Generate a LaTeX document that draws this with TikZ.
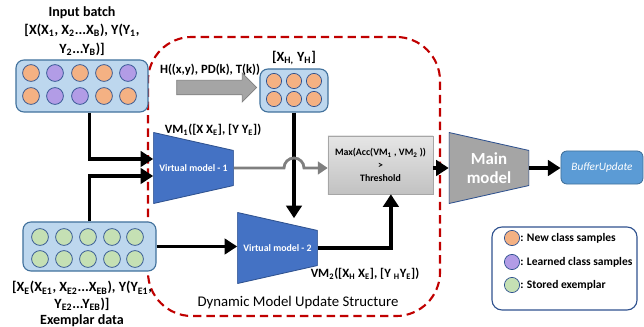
\documentclass[tikz,border=0pt]{standalone}
\usepackage{fontspec}
\setmainfont{Carlito}
\usetikzlibrary{arrows.meta,shapes.arrows,calc}

\definecolor{boxblue}{RGB}{189,215,238}
\definecolor{edgeblue}{RGB}{65,113,156}
\definecolor{dotedge}{RGB}{47,82,143}
\definecolor{neworange}{RGB}{244,177,131}
\definecolor{learnpurple}{RGB}{178,156,230}
\definecolor{storegreen}{RGB}{197,224,180}
\definecolor{vmblue}{RGB}{68,114,196}
\definecolor{maingray}{RGB}{165,165,165}
\definecolor{linegray}{RGB}{127,127,127}
\definecolor{dashred}{RGB}{192,0,0}
\definecolor{bufblue}{RGB}{91,155,213}

\begin{document}
\begin{tikzpicture}[x=0.025cm, y=-0.025cm, font=\bfseries\fontsize{10}{13}\selectfont,
    batch/.style={draw=edgeblue, fill=boxblue, line width=0.8pt, rounded corners=0.2cm},
    dot/.style={circle, draw=dotedge, line width=0.5pt, fill=#1, minimum size=0.42cm, inner sep=0pt},
    model/.style={minimum width=2cm, minimum height=1.775cm, inner sep=0pt, text=white, align=center,
        path picture={\filldraw[fill=#1, draw=dotedge, line width=0.6pt]
            (path picture bounding box.north west)
            -- ($(path picture bounding box.north east)+(0,18)$)
            -- ($(path picture bounding box.south east)+(0,-18)$)
            -- (path picture bounding box.south west) -- cycle;}},
    flow/.style={line width=2.6pt, -{Triangle[length=9pt,width=11pt]}},
    hop/.style={line width=2pt, linegray, -{Triangle[length=7pt,width=9pt]}}]

    \useasboundingbox (0,0) rectangle (644,327);

    % Dynamic model update frame
    \node[draw=dashred, line width=1.5pt, dash pattern=on 6pt off 3.5pt, rounded corners=1.1cm,
        minimum width=7.3cm, minimum height=6.975cm] (dmus) at (294,176.5) {};
    \node[font=\mdseries\fontsize{10.5}{12}\selectfont] (dmustext) at (298,303) {Dynamic Model Update Structure};

    % Input batch
    \node[align=center] (inlabel) at (82,31) {Input batch\\{}[X(X\textsubscript{1}, X\textsubscript{2}...X\textsubscript{B}), Y(Y\textsubscript{1},\\Y\textsubscript{2}...Y\textsubscript{B})]};
    \node[batch, minimum width=3.3cm, minimum height=1.3cm] (inbox) at (82,86) {};
    \foreach \cx/\cc [count=\i] in {31/neworange,55/learnpurple,80/neworange,104/neworange,128/learnpurple}
        \node[dot=\cc] (in-a\i) at (\cx,73) {};
    \foreach \cx/\cc [count=\i] in {31/neworange,55/learnpurple,80/learnpurple,104/neworange,128/neworange}
        \node[dot=\cc] (in-b\i) at (\cx,96) {};

    % Exemplar data
    \node[batch, minimum width=3.325cm, minimum height=1.225cm] (exbox) at (89.5,246.5) {};
    \foreach \cx [count=\i] in {40,64,88,112,135} {
        \node[dot=storegreen] (ex-a\i) at (\cx,237) {};
        \node[dot=storegreen] (ex-b\i) at (\cx,259) {};
    }
    \node[align=center, font=\bfseries\fontsize{10}{11.5}\selectfont] (exlabel) at (82,304) {{}[X\textsubscript{E}(X\textsubscript{E1}, X\textsubscript{E2}...X\textsubscript{EB}), Y(Y\textsubscript{E1},\\Y\textsubscript{E2}...Y\textsubscript{EB})]\\Exemplar data};

    % Hard samples
    \node[single arrow, fill=maingray, draw=linegray, line width=0.5pt, inner xsep=0pt, inner ysep=0.175cm,
        minimum height=2cm, single arrow head extend=0.18cm] (harrow) at (213,87.5) {};
    \node[font=\bfseries\fontsize{9}{11}\selectfont] (hlabel) at (210,70) {H((x,y), PD(k), T(k))};
    \node (xhlabel) at (294,58) {{}[X\textsubscript{H,} Y\textsubscript{H}]};
    \node[batch, minimum width=1.7cm, minimum height=1.075cm] (xhbox) at (294,90.5) {};
    \foreach \cx [count=\i] in {274,294,314} {
        \node[dot=neworange, minimum size=0.38cm] (xh-a\i) at (\cx,81) {};
        \node[dot=neworange, minimum size=0.38cm] (xh-b\i) at (\cx,99) {};
    }

    % Virtual models
    \node[model=vmblue, font=\bfseries\fontsize{7}{8}\selectfont] (vm1) at (193.5,168) {Virtual model - 1};
    \node[model=vmblue, font=\bfseries\fontsize{7}{8}\selectfont] (vm2) at (277.5,248) {Virtual model - 2};
    \node[font=\bfseries\fontsize{9}{11}\selectfont] (vm1label) at (213,130) {VM\textsubscript{1}([X X\textsubscript{E}], [Y Y\textsubscript{E}])};
    \node[font=\bfseries\fontsize{9}{11}\selectfont] (vm2label) at (365,274) {VM\textsubscript{2}([X\textsubscript{H} X\textsubscript{E}], [Y \textsubscript{H}Y\textsubscript{E}])};

    % Selection
    \node[draw=black!35, top color=black!10, bottom color=black!24, minimum width=2.625cm, minimum height=1.45cm,
        align=center, font=\bfseries\fontsize{7}{9}\selectfont] (maxbox) at (380.5,165) {Max(Acc(VM\textsubscript{1} , VM\textsubscript{2} ))\\>\\Threshold};

    % Main model and buffer
    \node[model=maingray, font=\bfseries\fontsize{12}{13.5}\selectfont] (mainm) at (489,168) {Main\\model};
    \node[fill=bufblue, draw=edgeblue, line width=0.6pt, rounded corners=0.15cm, text=white,
        minimum width=2.05cm, minimum height=0.825cm, font=\mdseries\itshape\fontsize{8}{10}\selectfont] (buffer) at (602,167.5) {BufferUpdate};

    % Connections
    \draw[flow] (inbox.south -| exbox.north) |- ([yshift=0.225cm]vm1.west);
    \draw[flow] (exbox.north) |- ([yshift=-0.2cm]vm1.west);
    \draw[flow] (exbox.east) -- (exbox.east -| vm2.west);
    \draw[flow] (xhbox.south) -- ([yshift=-0.15cm]xhbox.south |- vm2.north);
    \draw[hop] (vm1.east) -- ($(vm1.east -| xhbox.south)+(-10,0)$) arc[start angle=180, end angle=0, radius=0.25cm]
        -- (maxbox.west |- vm1.east);
    \draw[flow] (vm2.east) -| ([xshift=0.26cm]maxbox.south);
    \draw[flow] (maxbox.east |- mainm.west) -- (mainm.west);
    \draw[flow] (mainm.east) -- (buffer.west |- mainm.east);

    % Legend
    \node[draw=dotedge, line width=0.8pt, rounded corners=0.25cm, minimum width=3.625cm, minimum height=2.075cm] (legend) at (564.5,268.5) {};
    \node[dot=neworange, minimum size=0.38cm] (lg-new) at (512,238) {};
    \node[dot=learnpurple, minimum size=0.38cm] (lg-learn) at (512,262) {};
    \node[dot=storegreen, minimum size=0.38cm] (lg-store) at (512,285) {};
    \node[anchor=west, inner sep=0pt, font=\bfseries\fontsize{8.2}{10}\selectfont] (lgt-new) at (520,238) {: New class samples};
    \node[anchor=west, inner sep=0pt, font=\bfseries\fontsize{8.2}{10}\selectfont] (lgt-learn) at (520,262) {: Learned class samples};
    \node[anchor=west, inner sep=0pt, font=\bfseries\fontsize{8.2}{10}\selectfont] (lgt-store) at (520,285) {: Stored exemplar};
\end{tikzpicture}
\end{document}
